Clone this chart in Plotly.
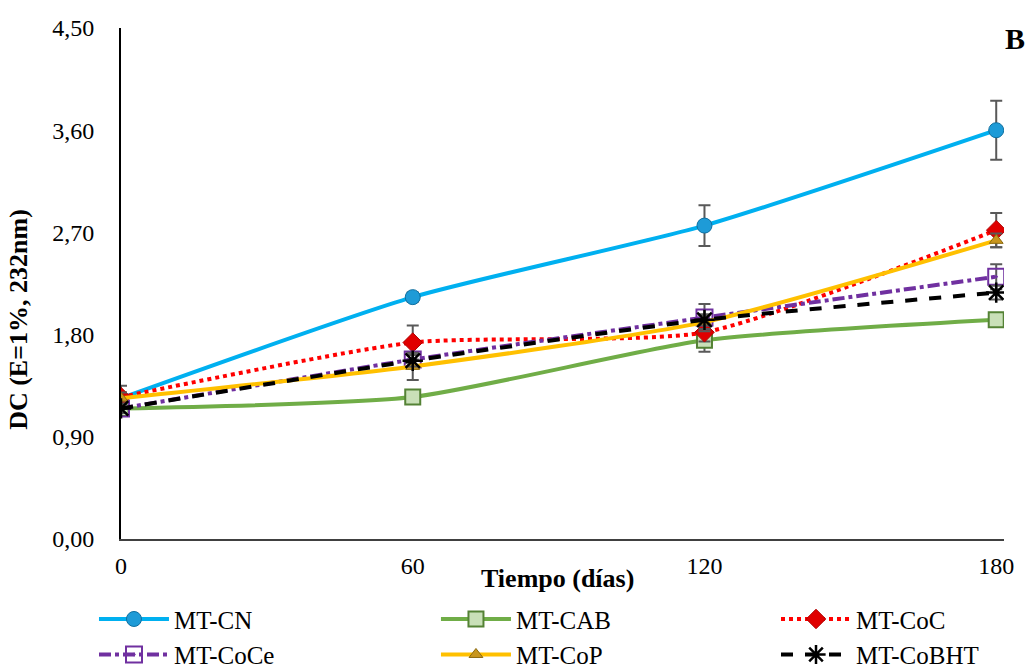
import plotly.graph_objects as go

# Storage time (days)
dias = [0, 60, 120, 180]

# Conjugated dienes, DC (E=1%, 232 nm), mean values per treatment
mt_cn = [1.24, 2.13, 2.76, 3.60]
mt_cab = [1.15, 1.25, 1.75, 1.93]
mt_coc = [1.25, 1.73, 1.82, 2.72]
mt_coce = [1.15, 1.58, 1.95, 2.31]
mt_cop = [1.24, 1.52, 1.91, 2.63]
mt_cobht = [1.15, 1.57, 1.93, 2.17]

# Standard deviations
sd_cn = [0.05, 0.04, 0.18, 0.26]
sd_cab = [0.04, 0.05, 0.10, 0.04]
sd_coc = [0.10, 0.15, 0.08, 0.15]
sd_coce = [0.04, 0.06, 0.12, 0.11]
sd_cop = [0.05, 0.12, 0.06, 0.06]
sd_cobht = [0.04, 0.05, 0.05, 0.06]

y_ticks = [0.0, 0.9, 1.8, 2.7, 3.6, 4.5]

FONT = "Liberation Serif, Times New Roman, serif"
ERR = dict(type="data", color="#595959", thickness=2, width=6)

# name, values, sd, line style, marker style, legend column
series = [
    ("MT-CN", mt_cn, sd_cn, dict(color="#00B0F0", width=4, dash="solid"),
     dict(symbol="circle", size=15, color="#1E9BD7", line=dict(color="#0E6FA0", width=1)), "legend"),
    ("MT-CAB", mt_cab, sd_cab, dict(color="#70AD47", width=4, dash="solid"),
     dict(symbol="square", size=15, color="#C9E0B8", line=dict(color="#548235", width=2)), "legend2"),
    ("MT-CoC", mt_coc, sd_coc, dict(color="#FF0000", width=4, dash="dot"),
     dict(symbol="diamond", size=15, color="#E00000", line=dict(color="#B00000", width=1)), "legend3"),
    ("MT-CoCe", mt_coce, sd_coce, dict(color="#7030A0", width=4, dash="dashdot"),
     dict(symbol="square-open-dot", size=16, color="#7030A0", line=dict(color="#7030A0", width=2)), "legend"),
    ("MT-CoP", mt_cop, sd_cop, dict(color="#FFC000", width=4, dash="solid"),
     dict(symbol="triangle-up", size=12, color="#C8961E", line=dict(color="#8C6A10", width=1)), "legend2"),
    ("MT-CoBHT", mt_cobht, sd_cobht, dict(color="#000000", width=4, dash="dash"),
     dict(symbol="asterisk-open", size=17, color="#000000", line=dict(color="#000000", width=2.5)), "legend3"),
]

fig = go.Figure()
for name, vals, sd, line, marker, leg in series:
    fig.add_trace(go.Scatter(
        x=dias, y=vals, name=name, mode="lines+markers",
        line=dict(shape="spline", smoothing=0.6, **line),
        marker=marker,
        error_y=dict(array=sd, **ERR),
        legend=leg,
    ))

fig.add_annotation(text="<b>B</b>", xref="paper", yref="paper", x=1.012, y=0.98,
                   xanchor="center", yanchor="middle", showarrow=False,
                   font=dict(family=FONT, size=30, color="black"))
fig.add_annotation(text="<b>Tiempo (días)</b>", xref="paper", yref="paper", x=0.494, y=-0.078,
                   xanchor="center", yanchor="middle", showarrow=False,
                   font=dict(family=FONT, size=26, color="black"))
fig.add_annotation(text="<b>DC (E=1%, 232nm)</b>", xref="paper", yref="paper", x=-0.116, y=0.43,
                   xanchor="center", yanchor="middle", textangle=-90, showarrow=False,
                   font=dict(family=FONT, size=26, color="black"))

legend_common = dict(orientation="v", y=-0.112, yanchor="top", xanchor="left",
                     itemwidth=70, bgcolor="rgba(0,0,0,0)",
                     font=dict(family=FONT, size=25, color="black"), traceorder="normal")

fig.update_layout(
    width=1031, height=671,
    margin=dict(l=121, r=27, t=28, b=132, autoexpand=False),
    plot_bgcolor="white", paper_bgcolor="white",
    separators=", ",
    font=dict(family=FONT, size=24, color="black"),
    showlegend=True,
    legend=dict(x=-0.0306, **legend_common),
    legend2=dict(x=0.3567, **legend_common),
    legend3=dict(x=0.7418, **legend_common),
    xaxis=dict(range=[0, 181.6], tickvals=dias, ticktext=[str(d) for d in dias],
               showgrid=False, zeroline=False, showline=True, linecolor="#404040",
               linewidth=2, ticks="", tickfont=dict(size=24), ticklabelstandoff=4),
    yaxis=dict(range=[0, 4.5], tickvals=y_ticks, tickformat=".2f",
               showgrid=False, zeroline=False, showline=True, linecolor="black",
               linewidth=2, ticks="", tickfont=dict(size=24), ticklabelstandoff=20),
)

fig.write_html("out.html")
